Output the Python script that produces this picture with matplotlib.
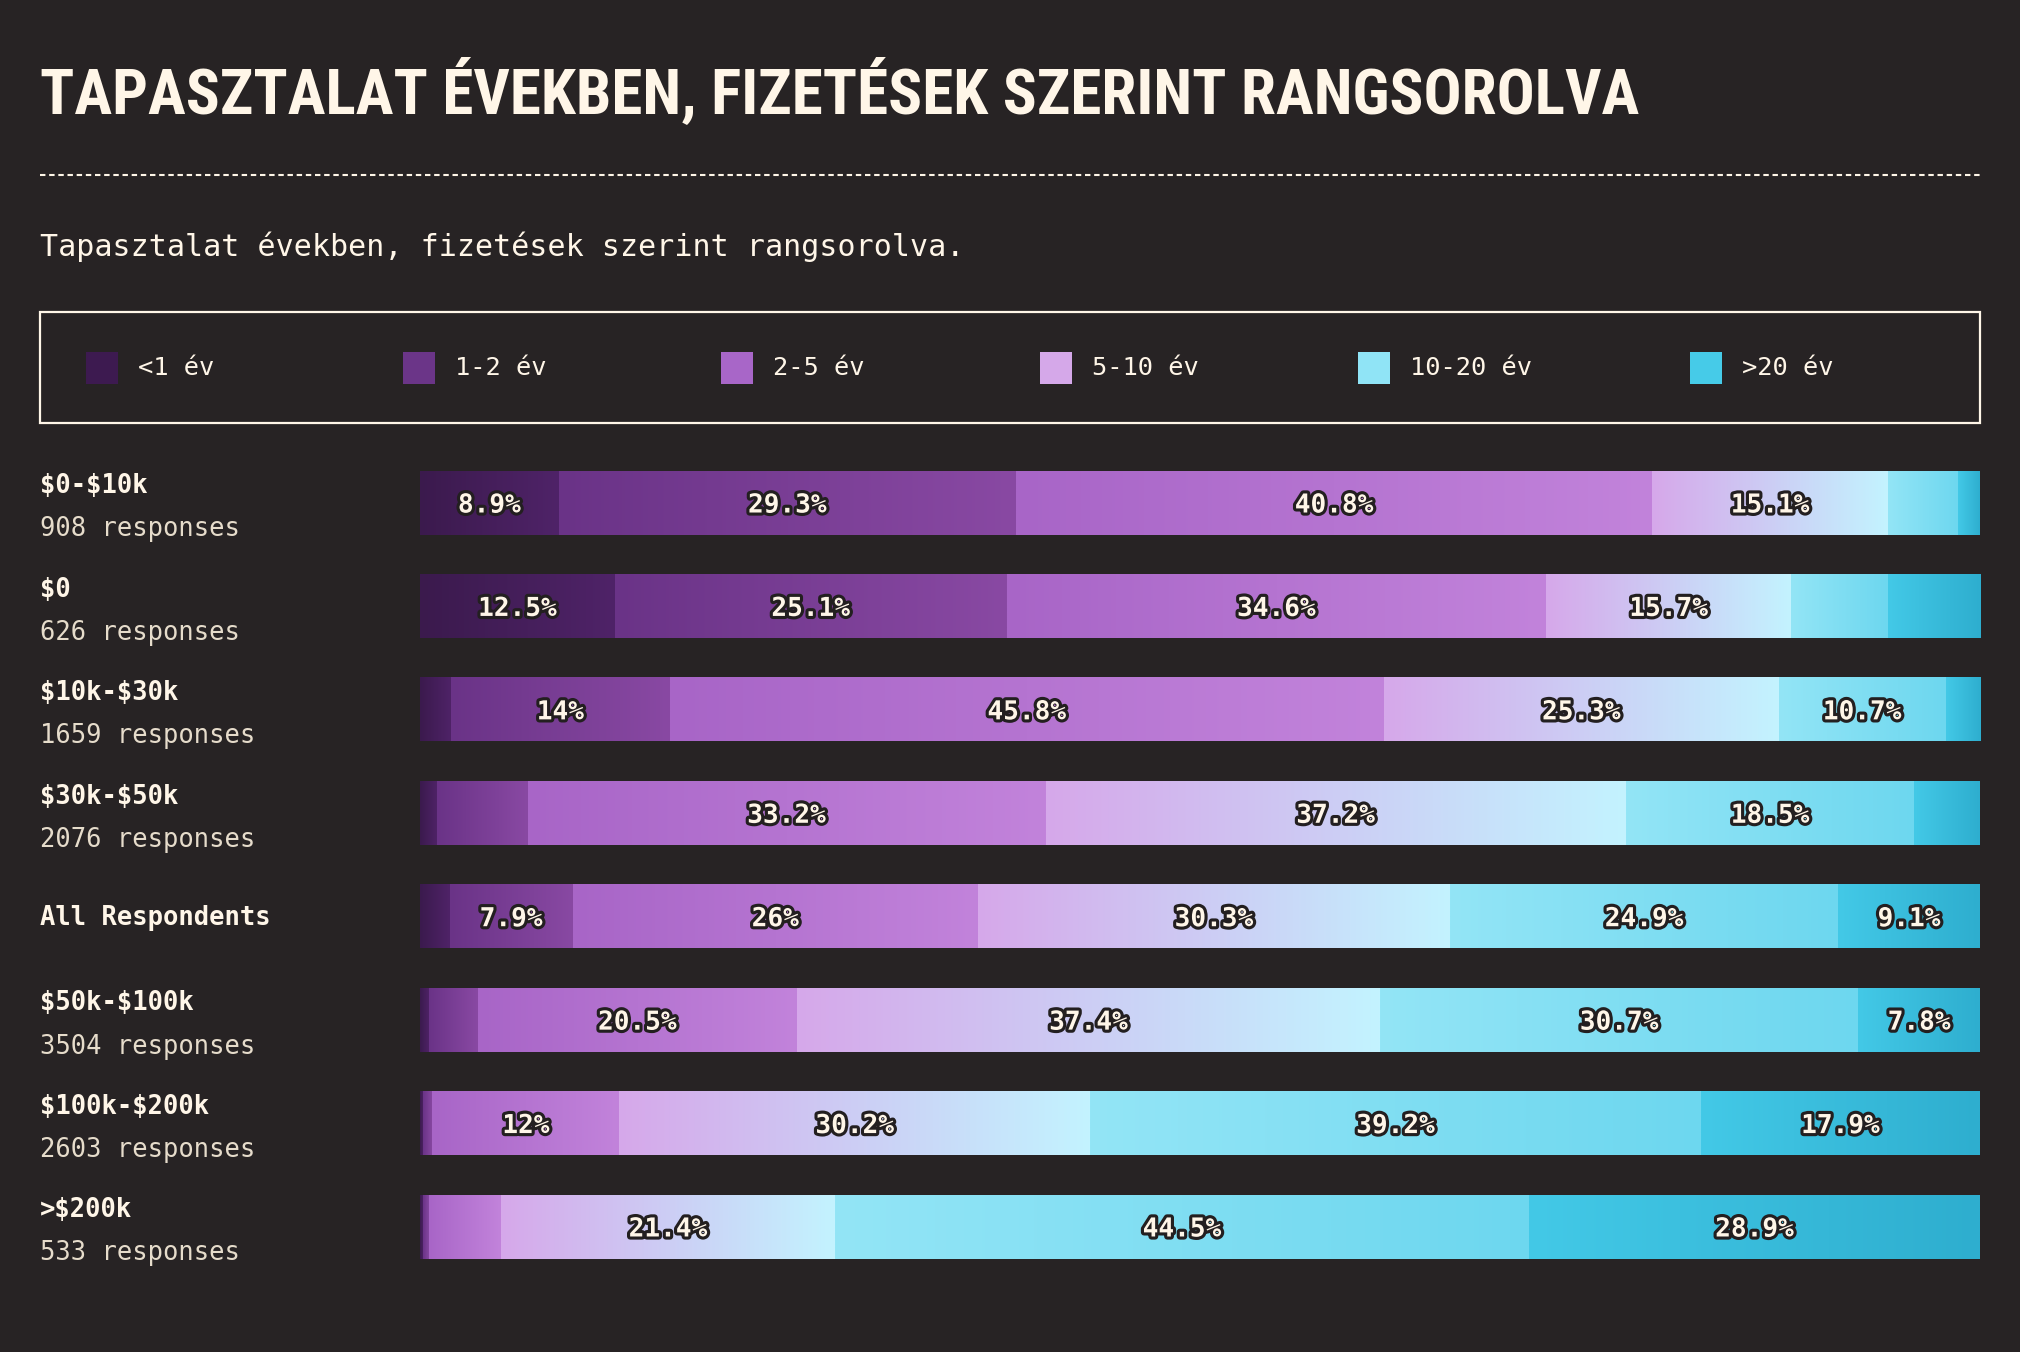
import numpy as np
import matplotlib
matplotlib.use("Agg")
import matplotlib.pyplot as plt
from matplotlib import font_manager, transforms
from matplotlib.colors import LinearSegmentedColormap
from matplotlib.patches import Rectangle
from matplotlib.lines import Line2D
import matplotlib.patheffects as pe

# ---------------- data ----------------
rows = ['$0-$10k', '$0', '$10k-$30k', '$30k-$50k', 'All Respondents',
        '$50k-$100k', '$100k-$200k', '>$200k']
responses = [908, 626, 1659, 2076, None, 3504, 2603, 533]
categories = ['<1 év', '1-2 év', '2-5 év', '5-10 év', '10-20 év', '>20 év']

lt1 = [8.9, 12.5, 2.0, 1.1, 1.9, 0.6, 0.2, 0.2]
y1_2 = [29.3, 25.1, 14.0, 5.8, 7.9, 3.1, 0.6, 0.4]
y2_5 = [40.8, 34.6, 45.8, 33.2, 26.0, 20.5, 12.0, 4.6]
y5_10 = [15.1, 15.7, 25.3, 37.2, 30.3, 37.4, 30.2, 21.4]
y10_20 = [4.5, 6.2, 10.7, 18.5, 24.9, 30.7, 39.2, 44.5]
gt20 = [1.4, 5.9, 2.2, 4.2, 9.1, 7.8, 17.9, 28.9]
series = [lt1, y1_2, y2_5, y5_10, y10_20, gt20]

title = 'TAPASZTALAT ÉVEKBEN, FIZETÉSEK SZERINT RANGSOROLVA'
subtitle = 'Tapasztalat években, fizetések szerint rangsorolva.'

# ---------------- style ----------------
BG = '#272324'
CREAM = '#fff6e8'
DIM = '#e6dccb'
legend_colors = ['#3d1a50', '#6b3588', '#a866c8', '#d5a8e9', '#90e4f6', '#46cbe8']
grad_colors = [('#3b1a4d', '#4f2368'),
               ('#6a3387', '#8949a3'),
               ('#a865c7', '#c283db'),
               ('#d6a8ea', '#c3f3ff'),
               ('#93e5f6', '#6dd7ef'),
               ('#43c9e7', '#2eaecf')]

MONO = 'DejaVu Sans Mono'
names = {f.name for f in font_manager.fontManager.ttflist}
title_font = 'DejaVu Sans'
for cand in ['Roboto Condensed', 'Open Sans Condensed', 'Liberation Sans Narrow', 'DejaVu Sans']:
    if cand in names:
        title_font = cand
        break

W, H = 2020, 1352
DPI = 100
fig = plt.figure(figsize=(W / DPI, H / DPI), dpi=DPI, facecolor=BG)

def fx(px):
    return px / W

def fy(py):
    return 1 - py / H

# title (fit to reference width)
t = fig.text(fx(40), fy(113), title, color=CREAM, fontsize=60, fontweight='heavy',
             family=[title_font, 'DejaVu Sans'], va='baseline', ha='left',
             fontstretch='condensed')
fig.canvas.draw()
r = fig.canvas.get_renderer()
w = t.get_window_extent(r).width
target = 1600
t.set_fontsize(min(80, 60 * target / w))

# dashed rule
fig.add_artist(Line2D([fx(40), fx(1980)], [fy(175), fy(175)], transform=fig.transFigure,
                      color=CREAM, lw=1.5, linestyle=(0, (2.6, 1.8))))

# subtitle
fig.text(fx(40), fy(256), subtitle, color=CREAM, fontsize=21.6, family=MONO,
         va='baseline', ha='left')

# legend box
fig.add_artist(Rectangle((fx(40), fy(423)), fx(1940), (423 - 312) / H,
                         transform=fig.transFigure, facecolor='none',
                         edgecolor=CREAM, lw=1.6))
leg_x = [86, 403, 721, 1040, 1358, 1690]
for cat, col, lx in zip(categories, legend_colors, leg_x):
    fig.add_artist(Rectangle((fx(lx), fy(384)), fx(32), 32 / H,
                             transform=fig.transFigure, facecolor=col, edgecolor='none'))
    fig.text(fx(lx + 52), fy(368), cat, color=CREAM, fontsize=18.3, family=MONO,
             va='center', ha='left')

# bars axes
n = len(rows)
top_px, bot_px = 503 - 51.7, 1227 + 51.7
ax = fig.add_axes([fx(420), fy(bot_px), fx(1560), (bot_px - top_px) / H])
ax.set_facecolor('none')
ax.axis('off')

bar_h = 0.61
data = np.array(series, dtype=float)  # (6, n)
totals = data.sum(axis=0)
shares = data / totals * 100.0
lefts = np.vstack([np.zeros(n), np.cumsum(shares, axis=0)[:-1]])
grad = np.linspace(0, 1, 256)[None, :]

for k in range(len(categories)):
    cmap = LinearSegmentedColormap.from_list('g%d' % k, grad_colors[k])
    for i in range(n):
        l = lefts[k, i]
        wdt = shares[k, i]
        ax.imshow(grad, cmap=cmap, aspect='auto', interpolation='bilinear',
                  extent=(l, l + wdt, i + bar_h / 2, i - bar_h / 2))
        v = data[k, i]
        if v >= 7:
            ax.annotate(f'{v:g}%', xy=(l + wdt / 2, i), xytext=(0, -1.8),
                        textcoords='offset points', ha='center', va='center',
                        color=CREAM, fontsize=18.8, fontweight='bold', family=MONO,
                        path_effects=[pe.withStroke(linewidth=4.5, foreground='#231f20')])

ax.set_xlim(0, 100)
ax.set_ylim(n - 0.5, -0.5)

# row labels
blend = transforms.blended_transform_factory(fig.transFigure, ax.transData)
for i, (lab, resp) in enumerate(zip(rows, responses)):
    if resp is None:
        ax.annotate(lab, xy=(fx(40), i), xycoords=blend, xytext=(0, -1),
                    textcoords='offset points', color=CREAM, fontsize=18.4,
                    fontweight='bold', family=MONO, va='center', ha='left',
                    parse_math=False, annotation_clip=False)
    else:
        ax.annotate(lab, xy=(fx(40), i), xycoords=blend, xytext=(0, 12.0),
                    textcoords='offset points', color=CREAM, fontsize=18.4,
                    fontweight='bold', family=MONO, va='center', ha='left',
                    parse_math=False, annotation_clip=False)
        ax.annotate(f'{resp} responses', xy=(fx(40), i), xycoords=blend,
                    xytext=(0, -19.0), textcoords='offset points', color=DIM,
                    fontsize=18.4, family=MONO, va='center', ha='left',
                    annotation_clip=False)

fig.savefig('out.png', dpi=DPI, facecolor=BG)
